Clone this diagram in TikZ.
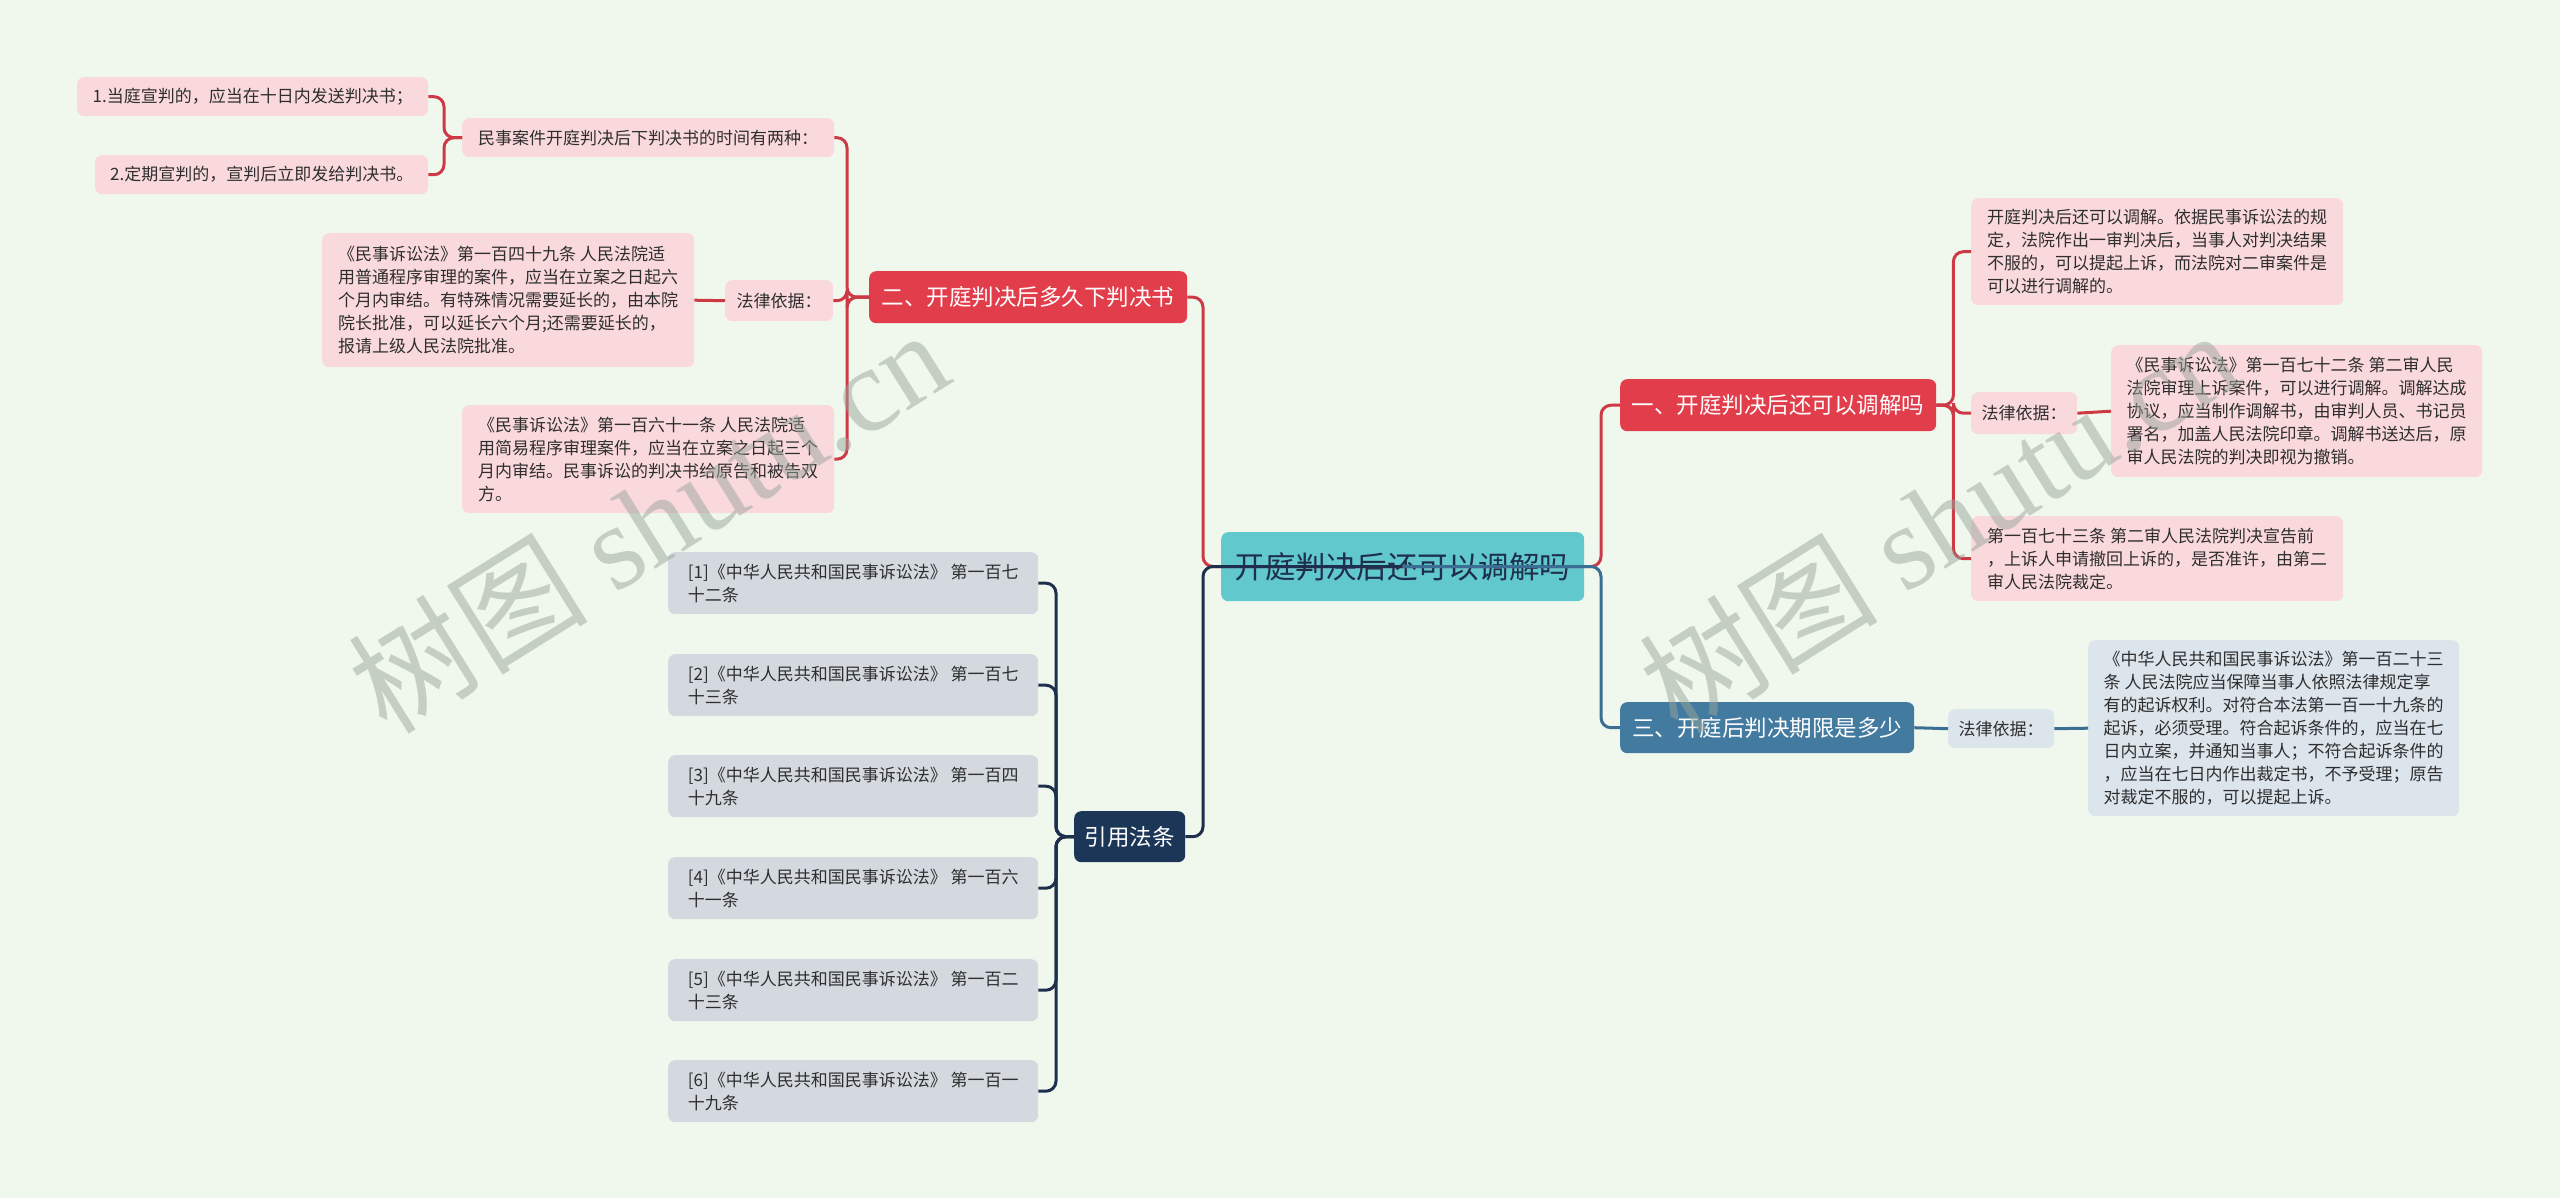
\documentclass[tikz,border=0pt]{standalone}
\usepackage{fontspec}
\setmainfont{Noto Sans CJK SC}
\newfontfamily\wmlat{Liberation Serif}
\usetikzlibrary{calc}
\definecolor{bgc}{HTML}{F0F8EE}
\definecolor{pinkc}{HTML}{FAD9DD}
\definecolor{redc}{HTML}{E23D4A}
\definecolor{redl}{HTML}{CD3A46}
\definecolor{tealc}{HTML}{61C9CD}
\definecolor{navyc}{HTML}{1C3658}
\definecolor{navyl}{HTML}{1E2F4D}
\definecolor{steelc}{HTML}{437BA0}
\definecolor{steell}{HTML}{3B6E93}
\definecolor{bluegc}{HTML}{DCE4EC}
\definecolor{grayc}{HTML}{D4D9E0}
\definecolor{txt}{HTML}{2E2E2E}
\definecolor{wmc}{HTML}{9AA59A}
\begin{document}
\begin{tikzpicture}[x=1pt,y=-1pt,
  box/.style={draw=none, rounded corners=7pt, anchor=north west, align=left, inner sep=0pt},
  leafbase/.style={box, text=txt, font=\fontsize{17}{23}\selectfont},
  pinkleaf/.style={leafbase, fill=pinkc},
  blueleaf/.style={leafbase, fill=bluegc},
  grayleaf/.style={leafbase, fill=grayc},
  branch/.style={box, align=center, text=white, font=\fontsize{22.5}{27}\selectfont},
  conn/.style={line width=3pt, rounded corners=10pt},
  wm/.style={text=wmc, text opacity=0.5, font=\fontsize{120}{125}\selectfont, rotate=32, inner sep=0pt}
]
\fill[bgc] (0,0) rectangle (2560,1198);
\useasboundingbox (0,0) rectangle (2560,1198);

% central
\node[box, align=center, fill=tealc, text=navyl, font=\fontsize{30.5}{34}\selectfont,
  minimum width=363, minimum height=69] (c) at (1221,532) {开庭判决后还可以调解吗};

% branches
\node[branch, fill=redc, minimum width=318, minimum height=52] (b2) at (869,271) {二、开庭判决后多久下判决书};
\node[branch, fill=redc, minimum width=316, minimum height=52] (b1) at (1620,379) {一、开庭判决后还可以调解吗};
\node[branch, fill=steelc, minimum width=294, minimum height=51] (b3) at (1620,702) {三、开庭后判决期限是多少};
\node[branch, fill=navyc, minimum width=111, minimum height=51] (yin) at (1074,811) {引用法条};

% left side leaves
\node[pinkleaf, minimum width=351, minimum height=39] (l11) at (77,77) {1.当庭宣判的，应当在十日内发送判决书；};
\node[pinkleaf, minimum width=333, minimum height=39] (l12) at (95,155) {2.定期宣判的，宣判后立即发给判决书。};
\node[pinkleaf, minimum width=372, minimum height=39] (l1) at (462,118) {民事案件开庭判决后下判决书的时间有两种：};
\node[pinkleaf, minimum width=108, minimum height=41] (lawL) at (725,280) {法律依据：};
\node[pinkleaf, minimum width=372, minimum height=134] (boxA) at (322,233) {《民事诉讼法》第一百四十九条 人民法院适\\用普通程序审理的案件，应当在立案之日起六\\个月内审结。有特殊情况需要延长的，由本院\\院长批准，可以延长六个月;还需要延长的，\\报请上级人民法院批准。};
\node[pinkleaf, minimum width=372, minimum height=108] (boxB) at (462,405) {《民事诉讼法》第一百六十一条 人民法院适\\用简易程序审理案件，应当在立案之日起三个\\月内审结。民事诉讼的判决书给原告和被告双\\方。};

% right side leaves
\node[pinkleaf, minimum width=372, minimum height=107] (r1) at (1971,198) {开庭判决后还可以调解。依据民事诉讼法的规\\定，法院作出一审判决后，当事人对判决结果\\不服的，可以提起上诉，而法院对二审案件是\\可以进行调解的。};
\node[pinkleaf, minimum width=106, minimum height=42] (lawR) at (1971,392) {法律依据：};
\node[pinkleaf, minimum width=371, minimum height=132] (r2) at (2111,345) {《民事诉讼法》第一百七十二条 第二审人民\\法院审理上诉案件，可以进行调解。调解达成\\协议，应当制作调解书，由审判人员、书记员\\署名，加盖人民法院印章。调解书送达后，原\\审人民法院的判决即视为撤销。};
\node[pinkleaf, minimum width=372, minimum height=85] (r3) at (1971,516) {第一百七十三条 第二审人民法院判决宣告前\\，上诉人申请撤回上诉的，是否准许，由第二\\审人民法院裁定。};
\node[blueleaf, minimum width=106, minimum height=39] (law3) at (1948,709) {法律依据：};
\node[blueleaf, minimum width=371, minimum height=176] (r4) at (2088,640) {《中华人民共和国民事诉讼法》第一百二十三\\条 人民法院应当保障当事人依照法律规定享\\有的起诉权利。对符合本法第一百一十九条的\\起诉，必须受理。符合起诉条件的，应当在七\\日内立案，并通知当事人；不符合起诉条件的\\，应当在七日内作出裁定书，不予受理；原告\\对裁定不服的，可以提起上诉。};

% references
\node[grayleaf, minimum width=370, minimum height=62] (ref1) at (668,552) {[1]《中华人民共和国民事诉讼法》 第一百七\\十二条};
\node[grayleaf, minimum width=370, minimum height=62] (ref2) at (668,654) {[2]《中华人民共和国民事诉讼法》 第一百七\\十三条};
\node[grayleaf, minimum width=370, minimum height=62] (ref3) at (668,755) {[3]《中华人民共和国民事诉讼法》 第一百四\\十九条};
\node[grayleaf, minimum width=370, minimum height=62] (ref4) at (668,857) {[4]《中华人民共和国民事诉讼法》 第一百六\\十一条};
\node[grayleaf, minimum width=370, minimum height=62] (ref5) at (668,959) {[5]《中华人民共和国民事诉讼法》 第一百二\\十三条};
\node[grayleaf, minimum width=370, minimum height=62] (ref6) at (668,1060) {[6]《中华人民共和国民事诉讼法》 第一百一\\十九条};

% connectors
\coordinate (tL) at (1203,566.5);
\coordinate (tR) at (1601,566.5);
\draw[conn, redl] (c.center) -- (tL) |- (b2.east);
\draw[conn, redl] (c.center) -- (tR) |- (b1.west);
\draw[conn, navyl] (c.center) -- (tL) |- (yin.east);
\draw[conn, steell] (c.center) -- (tR) |- (b3.west);

\foreach \t in {l1,lawL,boxB} \draw[conn, redl] (b2.west) -- ++(-22,0) |- (\t.east);
\foreach \t in {l11,l12} \draw[conn, redl] (l1.west) -- ++(-18,0) |- (\t.east);
\draw[conn, redl] (lawL.west) -- (boxA.east);

\foreach \t in {r1,lawR,r3} \draw[conn, redl] (b1.east) -- ++(17,0) |- (\t.west);
\draw[conn, redl] (lawR.east) -- (r2.west);

\draw[conn, steell] (b3.east) -- (law3.west);
\draw[conn, steell] (law3.east) -- (r4.west);

\foreach \t in {ref1,ref2,ref3,ref4,ref5,ref6} \draw[conn, navyl] (yin.west) -- ++(-18,0) |- (\t.east);

% watermarks
\node[wm] (wm1) at (648,520) {树图 {\wmlat shutu.cn}};
\node[wm] (wm2) at (1938,520) {树图 {\wmlat shutu.cn}};
\end{tikzpicture}
\end{document}
